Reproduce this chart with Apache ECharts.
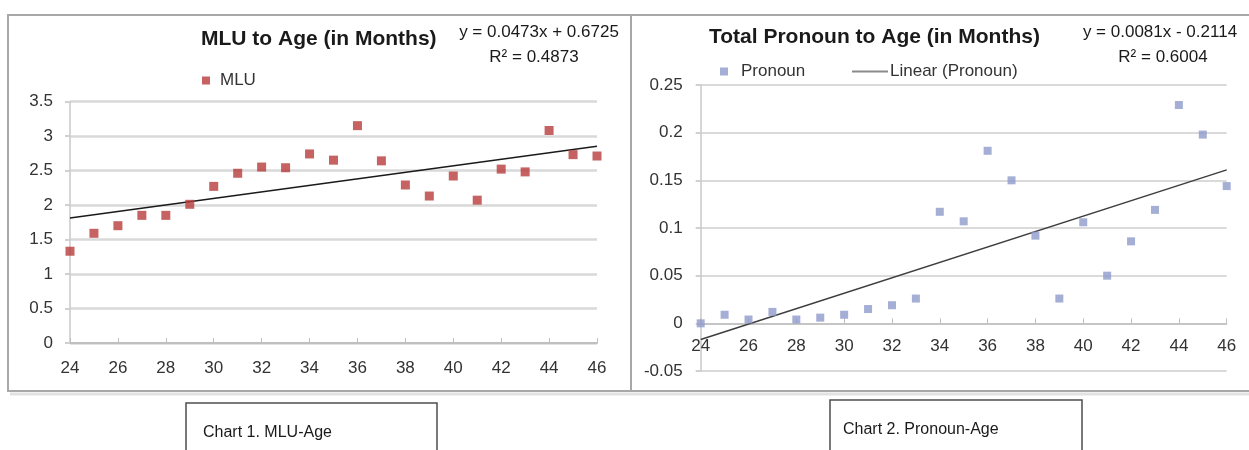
<!DOCTYPE html>
<html>
<head>
<meta charset="utf-8">
<script src="https://cdn.jsdelivr.net/npm/echarts@6/dist/echarts.min.js"></script>
<style>
  html, body { margin: 0; padding: 0; background: #fff; }
  #chart { width: 1249px; height: 450px; }
</style>
</head>
<body>
<div id="chart"></div>
<script>
// ---- data ----
const ages = [24, 25, 26, 27, 28, 29, 30, 31, 32, 33, 34, 35, 36, 37, 38, 39, 40, 41, 42, 43, 44, 45, 46];
const mlu = [1.33, 1.59, 1.70, 1.85, 1.85, 2.01, 2.27, 2.46, 2.55, 2.54, 2.74, 2.65, 3.15, 2.64, 2.29, 2.13, 2.42, 2.07, 2.52, 2.48, 3.08, 2.73, 2.71];
const pronoun = [0.000, 0.009, 0.004, 0.012, 0.004, 0.006, 0.009, 0.015, 0.019, 0.026, 0.117, 0.107, 0.181, 0.150, 0.092, 0.026, 0.106, 0.050, 0.086, 0.119, 0.229, 0.198, 0.144];
// trendline end points
const mluTrendX = [24, 46];
const mluTrendY = [1.81, 2.85];
const proTrendX = [24, 46];
const proTrendY = [-0.017, 0.161];
// texts
const mluTitle = 'MLU to Age (in Months)';
const mluEq = 'y = 0.0473x + 0.6725';
const mluR2 = 'R\u00B2 = 0.4873';
const proTitle = 'Total Pronoun to Age (in Months)';
const proEq = 'y = 0.0081x - 0.2114';
const proR2 = 'R\u00B2 = 0.6004';
const caption1 = 'Chart 1. MLU-Age';
const caption2 = 'Chart 2. Pronoun-Age';

const FONT = 'Liberation Sans';
const chart = echarts.init(document.getElementById('chart'), null, { renderer: 'canvas' });

const fmt = v => String(+v.toFixed(2));

// right chart: y range and plot height, used to lift the x axis onto y = 0
const proYMin = -0.05, proYMax = 0.25, proGridH = 286;
const proZeroOffset = -proGridH * (0 - proYMin) / (proYMax - proYMin);

const option = {
  animation: false,
  backgroundColor: '#fff',
  textStyle: { fontFamily: FONT },
  title: [
    { text: mluTitle, left: 196, top: 24, textStyle: { fontFamily: FONT, fontSize: 21, fontWeight: 'bold', color: '#1a1a1a' } },
    { text: proTitle, left: 704, top: 22, textStyle: { fontFamily: FONT, fontSize: 21, fontWeight: 'bold', color: '#1a1a1a' } }
  ],
  legend: [
    { data: ['MLU'], left: 197, top: 67, itemWidth: 8, itemHeight: 8, itemGap: 0,
      textStyle: { fontFamily: FONT, fontSize: 17, color: '#333', padding: [0, 0, 0, 5] } },
    { data: ['Pronoun'], left: 715, top: 58, itemWidth: 8, itemHeight: 8,
      textStyle: { fontFamily: FONT, fontSize: 17, color: '#333', padding: [0, 0, 0, 8] } },
    { data: [{ name: 'Linear (Pronoun)', icon: 'rect' }], left: 847, top: 58, itemWidth: 36, itemHeight: 2,
      textStyle: { fontFamily: FONT, fontSize: 17, color: '#333', padding: [0, 0, 0, -3] } }
  ],
  grid: [
    { left: 70, top: 101.5, width: 527, height: 241.5 },
    { left: 700.7, top: 85, width: 526, height: proGridH }
  ],
  xAxis: [
    { type: 'value', gridIndex: 0, min: 24, max: 46, interval: 2,
      axisLine: { show: true, lineStyle: { color: '#BFBFBF', width: 2 } },
      axisTick: { show: true, inside: true, length: 5, lineStyle: { color: '#BFBFBF' } },
      axisLabel: { fontFamily: FONT, fontSize: 17, color: '#333', margin: 17 },
      splitLine: { show: false } },
    { type: 'value', gridIndex: 1, min: 24, max: 46, interval: 2, position: 'bottom',
      offset: proZeroOffset,
      axisLine: { show: true, onZero: false, lineStyle: { color: '#BFBFBF', width: 1.5 } },
      axisTick: { show: true, inside: true, length: 5, lineStyle: { color: '#BFBFBF' } },
      axisLabel: { fontFamily: FONT, fontSize: 17, color: '#333', margin: 14 },
      splitLine: { show: false } }
  ],
  yAxis: [
    { type: 'value', gridIndex: 0, min: 0, max: 3.5, interval: 0.5,
      axisLine: { show: true, lineStyle: { color: '#C8C8C8', width: 1.5 } },
      axisTick: { show: true, length: 5, lineStyle: { color: '#D0D0D0', width: 2 } },
      axisLabel: { fontFamily: FONT, fontSize: 17, color: '#333', margin: 17, formatter: fmt },
      splitLine: { show: true, lineStyle: { color: '#D9D9D9', width: 2.5 } } },
    { type: 'value', gridIndex: 1, min: proYMin, max: proYMax, interval: 0.05,
      axisLine: { show: true, onZero: false, lineStyle: { color: '#C8C8C8', width: 1.5 } },
      axisTick: { show: true, length: 5, lineStyle: { color: '#D0D0D0', width: 2 } },
      axisLabel: { fontFamily: FONT, fontSize: 17, color: '#333', margin: 18, formatter: fmt },
      splitLine: { show: true, lineStyle: { color: '#DADADA', width: 2 } } }
  ],
  series: [
    { name: 'Linear (MLU)', type: 'line', xAxisIndex: 0, yAxisIndex: 0,
      data: mluTrendX.map((x, i) => [x, mluTrendY[i]]),
      symbol: 'none', lineStyle: { color: '#1a1a1a', width: 1.5 }, itemStyle: { color: '#1a1a1a' }, z: 3 },
    { name: 'MLU', type: 'scatter', xAxisIndex: 0, yAxisIndex: 0,
      data: ages.map((a, i) => [a, mlu[i]]),
      symbol: 'rect', symbolSize: 9, itemStyle: { color: '#B83B3B' }, z: 4 },
    { name: 'Linear (Pronoun)', type: 'line', xAxisIndex: 1, yAxisIndex: 1,
      data: proTrendX.map((x, i) => [x, proTrendY[i]]),
      symbol: 'none', lineStyle: { color: '#3d3d3d', width: 1.5 }, itemStyle: { color: '#8a8a8a' }, z: 3 },
    { name: 'Pronoun', type: 'scatter', xAxisIndex: 1, yAxisIndex: 1,
      data: ages.map((a, i) => [a, pronoun[i]]),
      symbol: 'rect', symbolSize: 8, itemStyle: { color: '#8E9ACB' }, z: 4 }
  ],
  graphic: [
    // chart frames
    { type: 'rect', shape: { x: 8, y: 15, width: 623, height: 376 }, style: { fill: 'none', stroke: '#A8A8A8', lineWidth: 2 }, z: 0, silent: true },
    { type: 'rect', shape: { x: 631, y: 15, width: 640, height: 376 }, style: { fill: 'none', stroke: '#A8A8A8', lineWidth: 2 }, z: 0, silent: true },
    { type: 'line', shape: { x1: 10, y1: 394, x2: 1249, y2: 394 }, style: { stroke: '#E2E2E2', lineWidth: 3 }, silent: true },
    // trendline labels
    { type: 'text', x: 539, y: 32, style: { text: mluEq, font: '17px "Liberation Sans"', fill: '#1a1a1a', align: 'center', verticalAlign: 'middle' } },
    { type: 'text', x: 534, y: 57, style: { text: mluR2, font: '17px "Liberation Sans"', fill: '#1a1a1a', align: 'center', verticalAlign: 'middle' } },
    { type: 'text', x: 1160, y: 32, style: { text: proEq, font: '17px "Liberation Sans"', fill: '#1a1a1a', align: 'center', verticalAlign: 'middle' } },
    { type: 'text', x: 1163, y: 57, style: { text: proR2, font: '17px "Liberation Sans"', fill: '#1a1a1a', align: 'center', verticalAlign: 'middle' } },
    // captions
    { type: 'rect', shape: { x: 186, y: 403, width: 251, height: 70 }, style: { fill: '#fff', stroke: '#4d4d4d', lineWidth: 1.5 }, silent: true },
    { type: 'text', x: 203, y: 433, style: { text: caption1, font: '16px "Liberation Sans"', fill: '#1a1a1a', align: 'left', verticalAlign: 'middle' } },
    { type: 'rect', shape: { x: 830, y: 400, width: 252, height: 70 }, style: { fill: '#fff', stroke: '#4d4d4d', lineWidth: 1.5 }, silent: true },
    { type: 'text', x: 843, y: 430, style: { text: caption2, font: '16px "Liberation Sans"', fill: '#1a1a1a', align: 'left', verticalAlign: 'middle' } }
  ]
};
chart.setOption(option);
</script>
</body>
</html>
